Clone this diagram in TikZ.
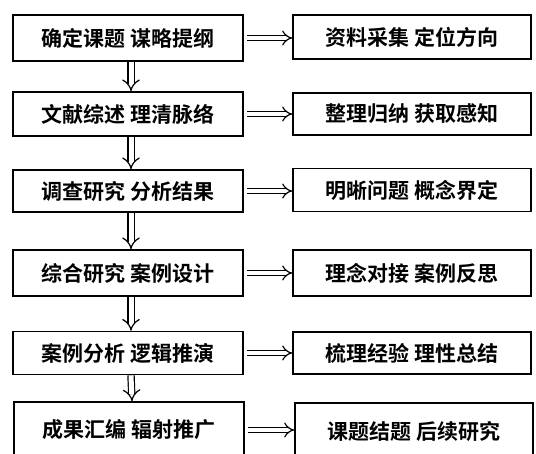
\documentclass[tikz,border=0pt]{standalone}
\usepackage{fontspec}
\setmainfont{Noto Sans CJK SC}[BoldFont={* Bold}]
\usetikzlibrary{arrows.meta}
\begin{document}
\begin{tikzpicture}[x=1pt,y=-1pt,
  lbox/.style={draw, line width=1.6pt, minimum width=230pt, inner sep=0pt, font=\bfseries\fontsize{21}{21}\selectfont, anchor=center},
  rbox/.style={draw, line width=1.6pt, minimum width=238pt, inner sep=0pt, font=\bfseries\fontsize{21}{21}\selectfont, anchor=center},
  harr/.style={double, double distance=4pt, line width=1.2pt, -{Implies}},
  varr/.style={double, double distance=5pt, line width=1.2pt, -{Implies}}]
\useasboundingbox (0,0) rectangle (536,454);
\clip (0,0) rectangle (536,454);
\node[lbox, minimum height=46pt] (l1) at (128,38) {确定课题\ 谋略提纲};
\node[lbox, minimum height=44pt] (l2) at (128,114) {文献综述\ 理清脉络};
\node[lbox, minimum height=42pt] (l3) at (128,191) {调查研究\ 分析结果};
\node[lbox, minimum height=46pt] (l4) at (128,273) {综合研究\ 案例设计};
\node[lbox, minimum height=43pt] (l5) at (128,353) {案例分析\ 逻辑推演};
\node[lbox, minimum height=56pt] (l6) at (129,430) {成果汇编\ 辐射推广};
\node[rbox, minimum height=44pt] (r1) at (412,37) {资料采集\ 定位方向};
\node[rbox, minimum height=42pt] (r2) at (412,114) {整理归纳\ 获取感知};
\node[rbox, minimum height=43pt] (r3) at (412,190) {明晰问题\ 概念界定};
\node[rbox, minimum height=46pt] (r4) at (412,273) {理念对接\ 案例反思};
\node[rbox, minimum height=42pt] (r5) at (412,353) {梳理经验\ 理性总结};
\node[rbox, minimum height=56pt] (r6) at (414,431) {课题结题\ 后续研究};
\foreach \i in {1,...,6} {
  \draw[harr] (l\i.east) ++(3,0) coordinate (hs\i) -- (r\i.west |- hs\i);
}
\foreach \a/\b in {1/2,2/3,3/4,4/5,5/6} {
  \draw[varr] ([xshift=3pt]l\a.south) -- ([xshift=3pt]l\b.north);
}
\end{tikzpicture}
\end{document}
